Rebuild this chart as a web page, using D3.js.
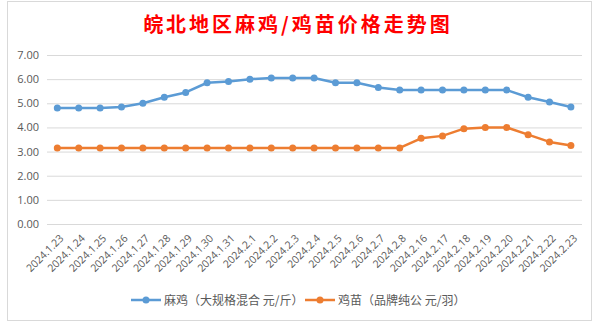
<!DOCTYPE html>
<html><head><meta charset="utf-8">
<script src="https://cdn.jsdelivr.net/npm/d3@7/dist/d3.min.js"></script>
<style>body{margin:0;background:#fff}svg{display:block}</style>
</head><body>
<svg id="c" width="599" height="324"></svg>
<script>
const categories = ["2024.1.23","2024.1.24","2024.1.25","2024.1.26","2024.1.27","2024.1.28","2024.1.29","2024.1.30","2024.1.31","2024.2.1","2024.2.2","2024.2.3","2024.2.4","2024.2.5","2024.2.6","2024.2.7","2024.2.8","2024.2.16","2024.2.17","2024.2.18","2024.2.19","2024.2.20","2024.2.21","2024.2.22","2024.2.23"];
const maji = [4.8,4.8,4.8,4.85,5.0,5.25,5.45,5.85,5.9,6.0,6.05,6.05,6.05,5.85,5.85,5.65,5.55,5.55,5.55,5.55,5.55,5.55,5.25,5.05,4.85];
const jimiao = [3.15,3.15,3.15,3.15,3.15,3.15,3.15,3.15,3.15,3.15,3.15,3.15,3.15,3.15,3.15,3.15,3.15,3.55,3.65,3.95,4.0,4.0,3.7,3.4,3.25];
const yTicks = [0,1,2,3,4,5,6,7];
const seriesNames = ["麻鸡（大规格混合 元/斤）","鸡苗（品牌纯公 元/羽）"];
const colors = ["#5B9BD5","#ED7D31"];
const title = "皖北地区麻鸡/鸡苗价格走势图";

const svg = d3.select("#c");
svg.append("rect").attr("x",7.5).attr("y",1.5).attr("width",584).attr("height",319)
  .attr("fill","#fff").attr("stroke","#d9d9d9");

svg.append("text").attr("x",298).attr("y",32).attr("text-anchor","middle")
  .attr("font-family","'Noto Sans CJK SC'").attr("font-weight","bold")
  .attr("font-size",20).attr("letter-spacing",3).attr("fill","#ff0000").text(title);

const x = d3.scaleBand().domain(categories).range([46.6, 581.6]);
const y = d3.scaleLinear().domain([0,7]).range([224,55]);

const yAxis = d3.axisLeft(y).tickValues(yTicks).tickFormat(d3.format(".2f")).tickSize(-535).tickPadding(8);
const gy = svg.append("g").attr("transform","translate(47,0)").call(yAxis);
gy.select(".domain").remove();
gy.selectAll(".tick line").attr("stroke","#d9d9d9");
gy.selectAll(".tick text").attr("fill","#595959").attr("font-family","'Open Sans', sans-serif").attr("font-size",11);

const xAxis = d3.axisBottom(x).tickSize(0).tickPadding(0);
const gx = svg.append("g").attr("transform","translate(0,224)").call(xAxis);
gx.select(".domain").remove();
gx.selectAll(".tick text").attr("fill","#595959").attr("font-family","'Open Sans', sans-serif")
  .attr("font-size",10.5).attr("text-anchor","end").attr("dy",0)
  .attr("transform","translate(7,15) rotate(-45)");

const line = d3.line().x((d,i)=>x(categories[i])+x.bandwidth()/2).y(d=>y(d));
[maji, jimiao].forEach((s,k)=>{
  svg.append("path").datum(s).attr("d",line).attr("fill","none")
    .attr("stroke",colors[k]).attr("stroke-width",2.5).attr("stroke-linejoin","round");
  svg.append("g").selectAll("circle").data(s).join("circle")
    .attr("cx",(d,i)=>x(categories[i])+x.bandwidth()/2).attr("cy",d=>y(d)).attr("r",3.5)
    .attr("fill",colors[k]);
});

const legX = [131, 305];
seriesNames.forEach((n,k)=>{
  const g = svg.append("g").attr("transform",`translate(${legX[k]},300)`);
  g.append("line").attr("x1",0).attr("x2",30).attr("y1",0).attr("y2",0).attr("stroke",colors[k]).attr("stroke-width",2.5);
  g.append("circle").attr("cx",15).attr("cy",0).attr("r",3.5).attr("fill",colors[k]);
  g.append("text").attr("x",33).attr("y",4.5).attr("fill","#595959")
    .attr("font-family","'Noto Sans CJK SC'").attr("font-size",12).text(n);
});
</script>
</body></html>
